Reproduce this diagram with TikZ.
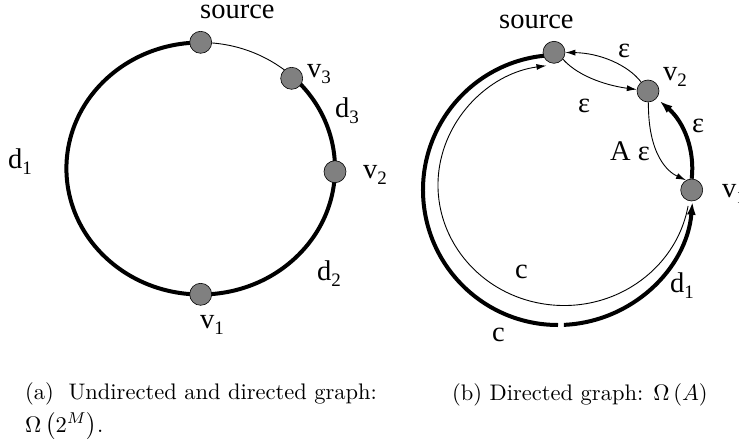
\documentclass[tikz,border=0pt]{standalone}
\usepackage{fontspec}
\usepackage{graphicx}
\newfontfamily\tms{Liberation Serif}
\usetikzlibrary{arrows.meta}
\newcommand\lbsub[2]{#1\raisebox{-6pt}{\fontsize{19}{19}\selectfont #2}}
\begin{document}
\begin{tikzpicture}[x=1pt,y=-1pt,
  vtx/.style={circle,draw=black,line width=0.6pt,fill=black!50,minimum size=22pt,inner sep=0pt},
  lbl/.style={anchor=base west,inner sep=0pt,font=\tms\fontsize{28.5}{30}\selectfont},
  captxt/.style={anchor=base west,inner sep=0pt},
  thickline/.style={line width=4pt},
  thinline/.style={line width=0.9pt},
  tarr/.style={-{Latex[length=10pt,width=6pt]}},
  Tarr/.style={-{Latex[length=13pt,width=9pt]}}]
\useasboundingbox (0,0) rectangle (739,447);

% ---------- left graph: ring ----------
\coordinate (cL) at (200.7,168.5);
\draw[thinline] (cL) ++(-90:134.3 and 126) arc[start angle=-90,end angle=-46.6,x radius=134.3,y radius=126];
\draw[thickline] (cL) ++(-46.6:134.3 and 126) arc[start angle=-46.6,end angle=270,x radius=134.3,y radius=126];

% ---------- right graph: arcs ----------
\coordinate (cR) at (558,190);
\draw[thickline] (cR) ++(-96:135) arc[start angle=-96,end angle=-270,radius=135];
\draw[thickline,Tarr] (cR) ++(87.5:135) arc[start angle=87.5,end angle=5,radius=135];
\coordinate (cI) at (564,185);
\draw[thinline,tarr] (cI) ++(10:126 and 120.5) arc[start angle=10,end angle=262,x radius=126,y radius=120.5];

% ---------- vertices ----------
\node[vtx] (srcL) at (200.7,42.3) {};
\node[vtx] (v3L) at (291.7,78.3) {};
\node[vtx] (v2L) at (335,171.7) {};
\node[vtx] (v1L) at (200.7,294.3) {};
\node[vtx] (srcR) at (554,52.3) {};
\node[vtx] (v2R) at (648,91) {};
\node[vtx] (v1R) at (691.7,190) {};

% ---------- right graph: epsilon edges ----------
\draw[thinline,tarr] (srcR.-38) .. controls (580,78) and (610,86) .. (v2R);
\draw[thinline,tarr] (v2R) .. controls (628,65) and (600,53) .. (srcR);
\draw[thinline,tarr] (v2R.-88) .. controls (648,155) and (668,172) .. (v1R.120);
\draw[thickline,Tarr,shorten >=4pt] (v1R.north) .. controls (695,150) and (684,122) .. (v2R);

% ---------- left labels ----------
\node[lbl] (lsrc) at (200,18) {source};
\node[lbl] (lv3) at (307,77) {\lbsub{v}{3}};
\node[lbl] (ld3) at (335,117) {\lbsub{d}{3}};
\node[lbl] (lv2) at (363,178) {\lbsub{v}{2}};
\node[lbl] (ld1) at (8,168) {\lbsub{d}{1}};
\node[lbl] (ld2) at (317,280) {\lbsub{d}{2}};
\node[lbl] (lv1) at (200,328) {\lbsub{v}{1}};

% ---------- right labels ----------
\node[lbl] (rsrc) at (499,28) {source};
\node[lbl] (rv2) at (663,80) {\lbsub{v}{2}};
\node[lbl] (rv1) at (722,197) {\lbsub{v}{1}};
\node[lbl] (e1) at (618,57) {ε};
\node[lbl] (e2) at (578,112) {ε};
\node[lbl] (e3) at (692,132) {ε};
\node[lbl] (e4) at (610,160) {A ε};
\node[lbl] (c1) at (515,278) {c};
\node[lbl] (rd1) at (670,292) {\lbsub{d}{1}};
\node[lbl] (c2) at (492,341) {c};

% ---------- captions ----------
\node[captxt] (capa) at (25,399) {\scalebox{2.25}{(a)\hspace{6.5pt}Undirected and directed graph:}};
\node[captxt] (capa2) at (25,432) {\scalebox{2.25}{$\Omega\left(2^M\right)$.}};
\node[captxt] (capb) at (452,400) {\scalebox{2.25}{(b) Directed graph: $\Omega\left(A\right)$}};
\end{tikzpicture}
\end{document}
